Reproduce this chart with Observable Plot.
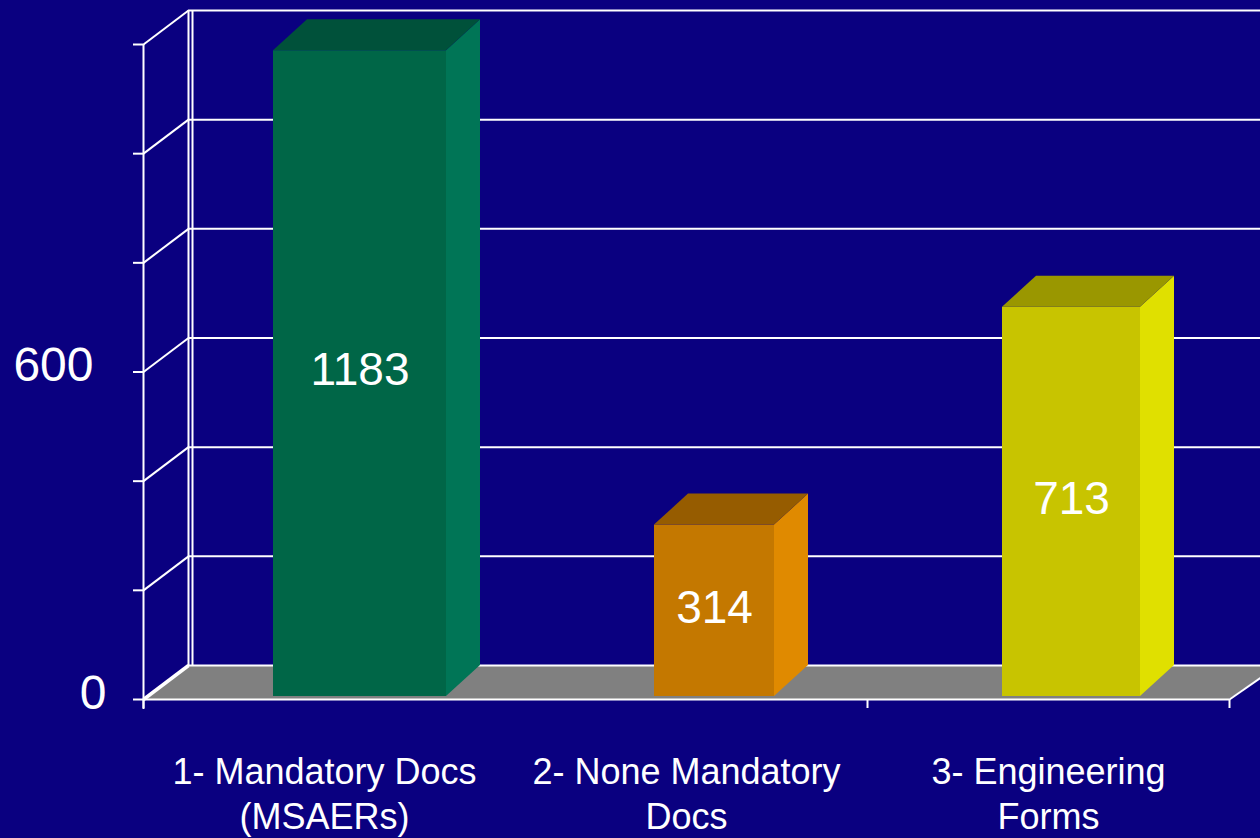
<!DOCTYPE html>
<html>
<head>
<meta charset="utf-8">
<script src="https://cdn.jsdelivr.net/npm/d3@7"></script>
<script src="https://cdn.jsdelivr.net/npm/@observablehq/plot@0.6"></script>
<style>
  html, body { margin: 0; padding: 0; background: #0a0080; overflow: hidden; }
  #chart svg { display: block; overflow: hidden; }
</style>
</head>
<body>
<div id="chart"></div>
<script>
// ---------- data ----------
const categories = ["1- Mandatory Docs\n(MSAERs)", "2- None Mandatory\nDocs", "3- Engineering\nForms"];
const counts = [1183, 314, 713];
const countLabels = ["1183", "314", "713"];
const gridValues = [0, 200, 400, 600, 800, 1000, 1200];
const yTickLabels = [0, 600];
const categoryTickMarks = [0, 2, 3];

// ---------- style / layout ----------
const W = 1260, H = 838;
const M = {left: 143, right: 31, top: 44, bottom: 139};
const Y_MAX = 1200;
const kx = (W - M.left - M.right) / categories.length;   // px per category
const ky = (H - M.top - M.bottom) / Y_MAX;              // px per unit
const wallDepth = {dx: 45, dy: 34, dxBack: 49};
const barDepth = {dx: 34, dy: 31};
const barLeftPx = [130, 149, 135];
const barWidthPx = [173, 120, 138];
const frontColors = ["#006647", "#c47800", "#c8c400"];
const topColors   = ["#00513a", "#965c00", "#9a9700"];
const sideColors  = ["#007556", "#e08a00", "#e0e000"];
const bg = "#0a0080", floorGray = "#808080", white = "#ffffff";
const font = "'Liberation Sans', Arial, sans-serif";

// depth converted to data units
const WDX = wallDepth.dx / kx, WDXB = wallDepth.dxBack / kx, WDY = wallDepth.dy / ky;
const BDX = barDepth.dx / kx, BDY = barDepth.dy / ky;

const bars = categories.map((c, i) => ({
  i, cat: c, value: counts[i], label: countLabels[i],
  x1: i + barLeftPx[i] / kx,
  x2: i + (barLeftPx[i] + barWidthPx[i]) / kx
}));
const topFaces = bars.flatMap(b => [
  {i: b.i, y: b.value, x1: b.x1, x2: b.x2},
  {i: b.i, y: b.value + BDY, x1: b.x1 + BDX, x2: b.x2 + BDX}
]);
const sideFaces = bars.flatMap(b => [
  {i: b.i, x: b.x2, y1: 0, y2: b.value},
  {i: b.i, x: b.x2 + BDX, y1: BDY, y2: b.value + BDY}
]);
const nCat = categories.length;
const floor = [
  {y: 0, x1: 0, x2: nCat},
  {y: WDY, x1: WDX, x2: nCat + WDXB}
];

const chart = Plot.plot({
  width: W, height: H,
  marginLeft: M.left, marginRight: M.right, marginTop: M.top, marginBottom: M.bottom,
  x: {domain: [0, nCat], axis: null},
  y: {domain: [0, Y_MAX], axis: null},
  color: {type: "identity"},
  style: {background: bg, color: white, fontFamily: font, overflow: "hidden"},
  marks: [
    // floor
    Plot.areaX(floor, {y: "y", x1: "x1", x2: "x2", fill: floorGray}),
    // back wall gridlines
    Plot.ruleY(gridValues, {x1: 0, x2: nCat + 1, dx: wallDepth.dx, dy: -wallDepth.dy, stroke: white, strokeWidth: 2}),
    // back wall vertical edges
    Plot.ruleX([0], {y1: Y_MAX, y2: 0, dx: wallDepth.dx, dy: -wallDepth.dy, stroke: white, strokeWidth: 2}),
    Plot.ruleX([0], {y1: Y_MAX, y2: 0, dx: wallDepth.dxBack, dy: -wallDepth.dy, stroke: white, strokeWidth: 2}),
    // left wall diagonals
    Plot.link(gridValues, {x1: 0, y1: d => d, x2: WDX, y2: d => d + WDY, stroke: white, strokeWidth: 2}),
    Plot.link([0], {x1: 0, y1: 0, x2: WDX, y2: WDY, stroke: white, strokeWidth: 3.5}),
    // floor front edge + right diagonal
    Plot.ruleY([0], {x1: 0, x2: nCat, stroke: white, strokeWidth: 2}),
    Plot.link([0], {x1: nCat, y1: 0, x2: nCat + WDXB, y2: WDY, stroke: white, strokeWidth: 2}),
    // front y axis line
    Plot.ruleX([0], {y1: Y_MAX, y2: 0, insetBottom: -10, stroke: white, strokeWidth: 2}),
    // y ticks
    Plot.axisY(gridValues, {tickSize: 10, tickFormat: () => "", stroke: white, strokeWidth: 2}),
    Plot.axisY([yTickLabels[0]], {tickSize: 0, tickPadding: 37, fontSize: 48, dy: -6, tickFormat: d => String(d)}),
    Plot.axisY([yTickLabels[1]], {tickSize: 0, tickPadding: 50, fontSize: 48, dy: -6, tickFormat: d => String(d)}),
    // x ticks at category boundaries
    Plot.axisX(categoryTickMarks, {tickSize: 9, tickFormat: () => "", stroke: white, strokeWidth: 2}),
    // category labels
    Plot.axisX(categories.map((c, i) => i + 0.5), {
      tickSize: 0, tickPadding: 53, fontSize: 36, lineHeight: 45 / 36,
      tickFormat: d => categories[Math.floor(d)]
    }),
    // bars: side, top, front
    Plot.areaY(sideFaces, {x: "x", y1: "y1", y2: "y2", z: "i", fill: d => sideColors[d.i], dy: -3}),
    Plot.areaX(topFaces, {y: "y", x1: "x1", x2: "x2", z: "i", fill: d => topColors[d.i], dy: -3}),
    Plot.rectY(bars, {x1: "x1", x2: "x2", y1: 0, y2: "value", fill: d => frontColors[d.i], dy: -3}),
    // value labels
    Plot.text(bars, {x: d => (d.x1 + d.x2) / 2, y: d => d.value / 2, text: "label", fill: white, fontSize: 46, dy: -6})
  ]
});
document.getElementById("chart").appendChild(chart);
</script>
</body>
</html>
